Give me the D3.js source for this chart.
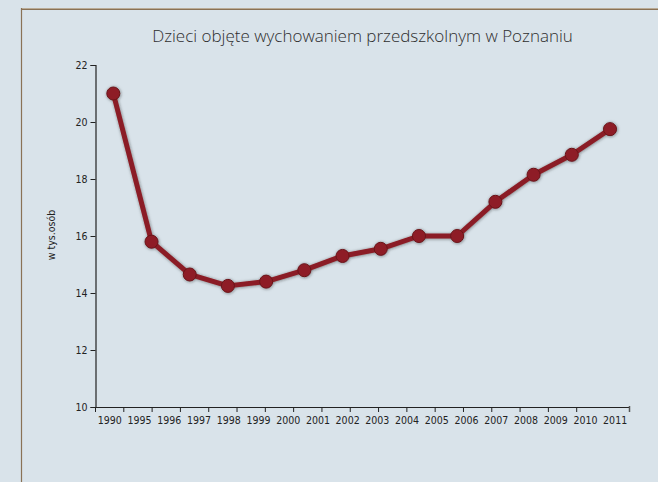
<!DOCTYPE html>
<html>
<head>
<meta charset="utf-8">
<script src="https://cdn.jsdelivr.net/npm/d3@7"></script>
<style>
  html, body { margin: 0; padding: 0; background: #d9e3ea; }
  svg { display: block; }
</style>
</head>
<body>
<svg id="chart" width="658" height="482"></svg>
<script>
// Category labels printed under the horizontal axis
const yearLabels = ["1990", "1995", "1996", "1997", "1998", "1999", "2000", "2001", "2002",
                    "2003", "2004", "2005", "2006", "2007", "2008", "2009", "2010", "2011"];
// Children in pre-school education (thousands), one value per plotted point
const children = [21.0, 15.8, 14.65, 14.25, 14.4, 14.8, 15.3, 15.55, 16.0, 16.0, 17.2, 18.15, 18.85, 19.75];
// Value axis ticks
const yTicks = [10, 12, 14, 16, 18, 20, 22];

const titleText = "Dzieci objęte wychowaniem przedszkolnym w Poznaniu";
const yTitle = "w tys.osób";

const svg = d3.select("#chart");
const W = 658, H = 482;

const axisFont = "'Liberation Sans Narrow', 'DejaVu Sans Condensed', sans-serif";

// Plot area
const x0 = 95, x1 = 630, yTop = 65, yBot = 407;

const y = d3.scaleLinear().domain([10, 22]).range([yBot, yTop]);
const xLabel = d3.scaleBand().domain(yearLabels).range([x0, x1]);
const xTick = d3.scaleLinear().domain([0, 18]).range([x0, 604.5]);
const xPoint = d3.scaleLinear().domain([0, children.length - 1]).range([113.3, 610]);

// Background
svg.append("rect").attr("width", W).attr("height", H).attr("fill", "#d9e3ea");

// Frame lines (top and left)
svg.append("line").attr("x1", 21).attr("x2", W).attr("y1", 8.5).attr("y2", 8.5)
  .attr("stroke", "#b9ab96").attr("stroke-width", 1);
svg.append("line").attr("x1", 21).attr("x2", W).attr("y1", 9.5).attr("y2", 9.5)
  .attr("stroke", "#8a7256").attr("stroke-width", 1);
svg.append("line").attr("x1", 21.5).attr("x2", 21.5).attr("y1", 8).attr("y2", H)
  .attr("stroke", "#8a7256").attr("stroke-width", 1.2);

// Title
svg.append("text")
  .attr("x", (x0 + x1) / 2).attr("y", 42)
  .attr("text-anchor", "middle")
  .attr("font-family", "'Open Sans', sans-serif")
  .attr("font-weight", 300)
  .attr("font-size", 17)
  .attr("fill", "#2e2e2e")
  .text(titleText);

// Y axis
const yAxis = d3.axisLeft(y).tickValues(yTicks).tickSize(5).tickPadding(3);
const gy = svg.append("g").attr("transform", `translate(${x0 + 0.5},0)`).call(yAxis);
gy.select(".domain").attr("stroke", "#222").attr("stroke-width", 1.2);
gy.selectAll(".tick line").attr("stroke", "#222");
gy.selectAll(".tick text")
  .attr("font-family", axisFont).attr("font-size", 10.5).attr("fill", "#222");

// Y axis title
svg.append("text")
  .attr("transform", `translate(55,235) rotate(-90)`)
  .attr("text-anchor", "middle")
  .attr("font-family", axisFont)
  .attr("font-size", 10.5)
  .attr("fill", "#222")
  .text(yTitle);

// X axis: baseline, tick marks, labels
const gx = svg.append("g").attr("transform", `translate(0,${yBot + 0.5})`);
gx.append("line").attr("x1", x0).attr("x2", x1).attr("stroke", "#222").attr("stroke-width", 1.2);
gx.selectAll("line.tk")
  .data(d3.range(0, 18))
  .join("line")
  .attr("class", "tk")
  .attr("x1", d => xTick(d) + 0.5).attr("x2", d => xTick(d) + 0.5)
  .attr("y1", 0).attr("y2", 4.5)
  .attr("stroke", "#222");
gx.append("line").attr("x1", x1 - 0.5).attr("x2", x1 - 0.5).attr("y1", -1.5).attr("y2", 4.5)
  .attr("stroke", "#555").attr("stroke-width", 1.5);
gx.selectAll("text")
  .data(yearLabels)
  .join("text")
  .attr("x", d => xLabel(d) + xLabel.bandwidth() / 2)
  .attr("y", 16)
  .attr("text-anchor", "middle")
  .attr("font-family", axisFont)
  .attr("font-size", 10.5)
  .attr("fill", "#222")
  .text(d => d);

// Soft shadow behind the series
const defs = svg.append("defs");
const f = defs.append("filter").attr("id", "glow")
  .attr("x", "-20%").attr("y", "-20%").attr("width", "140%").attr("height", "140%");
f.append("feDropShadow").attr("dx", 0.5).attr("dy", 0.5).attr("stdDeviation", 1.4)
  .attr("flood-color", "#1a1a1a").attr("flood-opacity", 0.55);

const series = svg.append("g").attr("filter", "url(#glow)");
const line = d3.line().x((d, i) => xPoint(i)).y(d => y(d));
series.append("path")
  .datum(children)
  .attr("d", line)
  .attr("fill", "none")
  .attr("stroke", "#8b1d25")
  .attr("stroke-width", 5)
  .attr("stroke-linejoin", "round");

series.selectAll("circle")
  .data(children)
  .join("circle")
  .attr("cx", (d, i) => xPoint(i))
  .attr("cy", d => y(d))
  .attr("r", 6.5)
  .attr("fill", "#8e1f27")
  .attr("stroke", "#6a1219")
  .attr("stroke-width", 1);
</script>
</body>
</html>
